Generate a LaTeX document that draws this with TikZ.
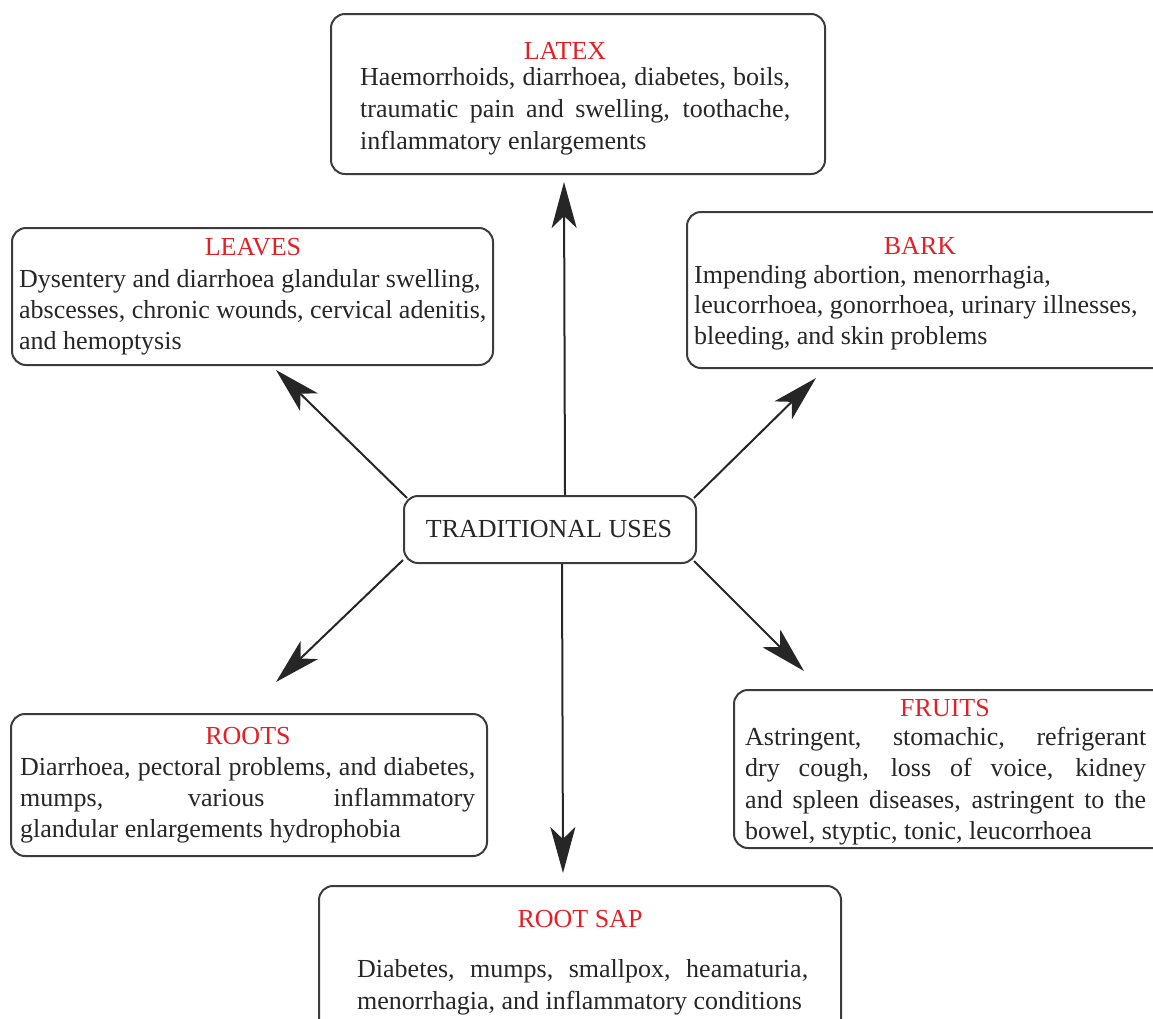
\documentclass[tikz,border=0pt]{standalone}
\usepackage{fontspec}
\setmainfont{Liberation Serif}
\usetikzlibrary{arrows.meta}
\definecolor{ink}{RGB}{38,38,38}
\definecolor{frame}{RGB}{60,60,60}
\definecolor{titlered}{RGB}{228,32,38}
\tikzset{
  box/.style={draw=frame, line width=2pt, rounded corners=14pt, anchor=north west, inner sep=0pt},
  ttl/.style={text=titlered, anchor=base, inner sep=0pt, font=\fontsize{26}{31}\selectfont},
  txt/.style={text=ink, anchor=base west, inner sep=0pt, font=\fontsize{26}{31}\selectfont},
  arr/.style={draw=ink, line width=2pt, -{Stealth[length=46pt,width=25pt,inset=12pt]}}
}
\newcommand{\jl}[2]{\makebox[#1][s]{#2}}
\begin{document}
\begin{tikzpicture}[x=1pt,y=-1pt]
\useasboundingbox (0,0) rectangle (1153,1018);
% boxes
\node[box, minimum width=494pt, minimum height=160pt] (latex) at (330,13) {};
\node[box, minimum width=481pt, minimum height=137pt] (leaves) at (11,227) {};
\node[box, minimum width=500pt, minimum height=156pt] (bark) at (686,211) {};
\node[box, minimum width=292pt, minimum height=67pt] (tu) at (403,495) {};
\node[box, minimum width=476pt, minimum height=142pt] (roots) at (10,713) {};
\node[box, minimum width=460pt, minimum height=158pt] (fruits) at (733,689) {};
\node[box, minimum width=522pt, minimum height=160pt] (rootsap) at (318,885) {};
% centre text
\node[txt, anchor=base] (tut) at (549,537) {TRADITIONAL USES};
% LATEX
\node[ttl] (latexT) at (565,59) {LATEX};
\node[txt] (latex1) at (360,85) {\jl{430pt}{Haemorrhoids, diarrhoea, diabetes, boils,}};
\node[txt] (latex2) at (360,117) {\jl{430pt}{traumatic pain and swelling, toothache,}};
\node[txt] (latex3) at (360,149) {inflammatory enlargements};
% LEAVES
\node[ttl] (leavesT) at (253,255) {LEAVES};
\node[txt] (leaves1) at (19,287) {Dysentery and diarrhoea glandular swelling,};
\node[txt] (leaves2) at (19,318) {abscesses, chronic wounds, cervical adenitis,};
\node[txt] (leaves3) at (19,349) {and hemoptysis};
% BARK
\node[ttl] (barkT) at (920,254) {BARK};
\node[txt] (bark1) at (694,283) {Impending abortion, menorrhagia,};
\node[txt] (bark2) at (694,313) {leucorrhoea, gonorrhoea, urinary illnesses,};
\node[txt] (bark3) at (694,344) {bleeding, and skin problems};
% ROOTS
\node[ttl] (rootsT) at (248,744) {ROOTS};
\node[txt] (roots1) at (20,775) {\jl{455pt}{Diarrhoea, pectoral problems, and diabetes,}};
\node[txt] (roots2) at (20,806) {\jl{455pt}{mumps, various inflammatory}};
\node[txt] (roots3) at (20,837) {glandular enlargements hydrophobia};
% FRUITS
\node[ttl] (fruitsT) at (945,716) {FRUITS};
\node[txt] (fruits1) at (745,745) {\jl{401pt}{Astringent, stomachic, refrigerant}};
\node[txt] (fruits2) at (745,776) {\jl{401pt}{dry cough, loss of voice, kidney}};
\node[txt] (fruits3) at (745,808) {\jl{401pt}{and spleen diseases, astringent to the}};
\node[txt] (fruits4) at (745,839) {bowel, styptic, tonic, leucorrhoea};
% ROOT SAP
\node[ttl] (rootsapT) at (580,927) {ROOT SAP};
\node[txt] (rootsap1) at (357,977) {\jl{451pt}{Diabetes, mumps, smallpox, heamaturia,}};
\node[txt] (rootsap2) at (357,1009) {menorrhagia, and inflammatory conditions};
% arrow tips
\coordinate (tipLatex) at (564,182);
\coordinate (tipLeaves) at (276,370);
\coordinate (tipBark) at (816,378);
\coordinate (tipRoots) at (276,682);
\coordinate (tipFruits) at (804,671);
\coordinate (tipRootsap) at (563,873);
% connectors
\draw[arr] ([xshift=162pt]tu.north west) -- (tipLatex);
\draw[arr] ([shift={(4pt,-3pt)}]tu.north west) -- (tipLeaves);
\draw[arr] ([shift={(-3pt,-3pt)}]tu.north east) -- (tipBark);
\draw[arr] ([shift={(0pt,4pt)}]tu.south west) -- (tipRoots);
\draw[arr] ([shift={(-3pt,3pt)}]tu.south east) -- (tipFruits);
\draw[arr] ([xshift=159pt]tu.south west) -- (tipRootsap);
\end{tikzpicture}
\end{document}
